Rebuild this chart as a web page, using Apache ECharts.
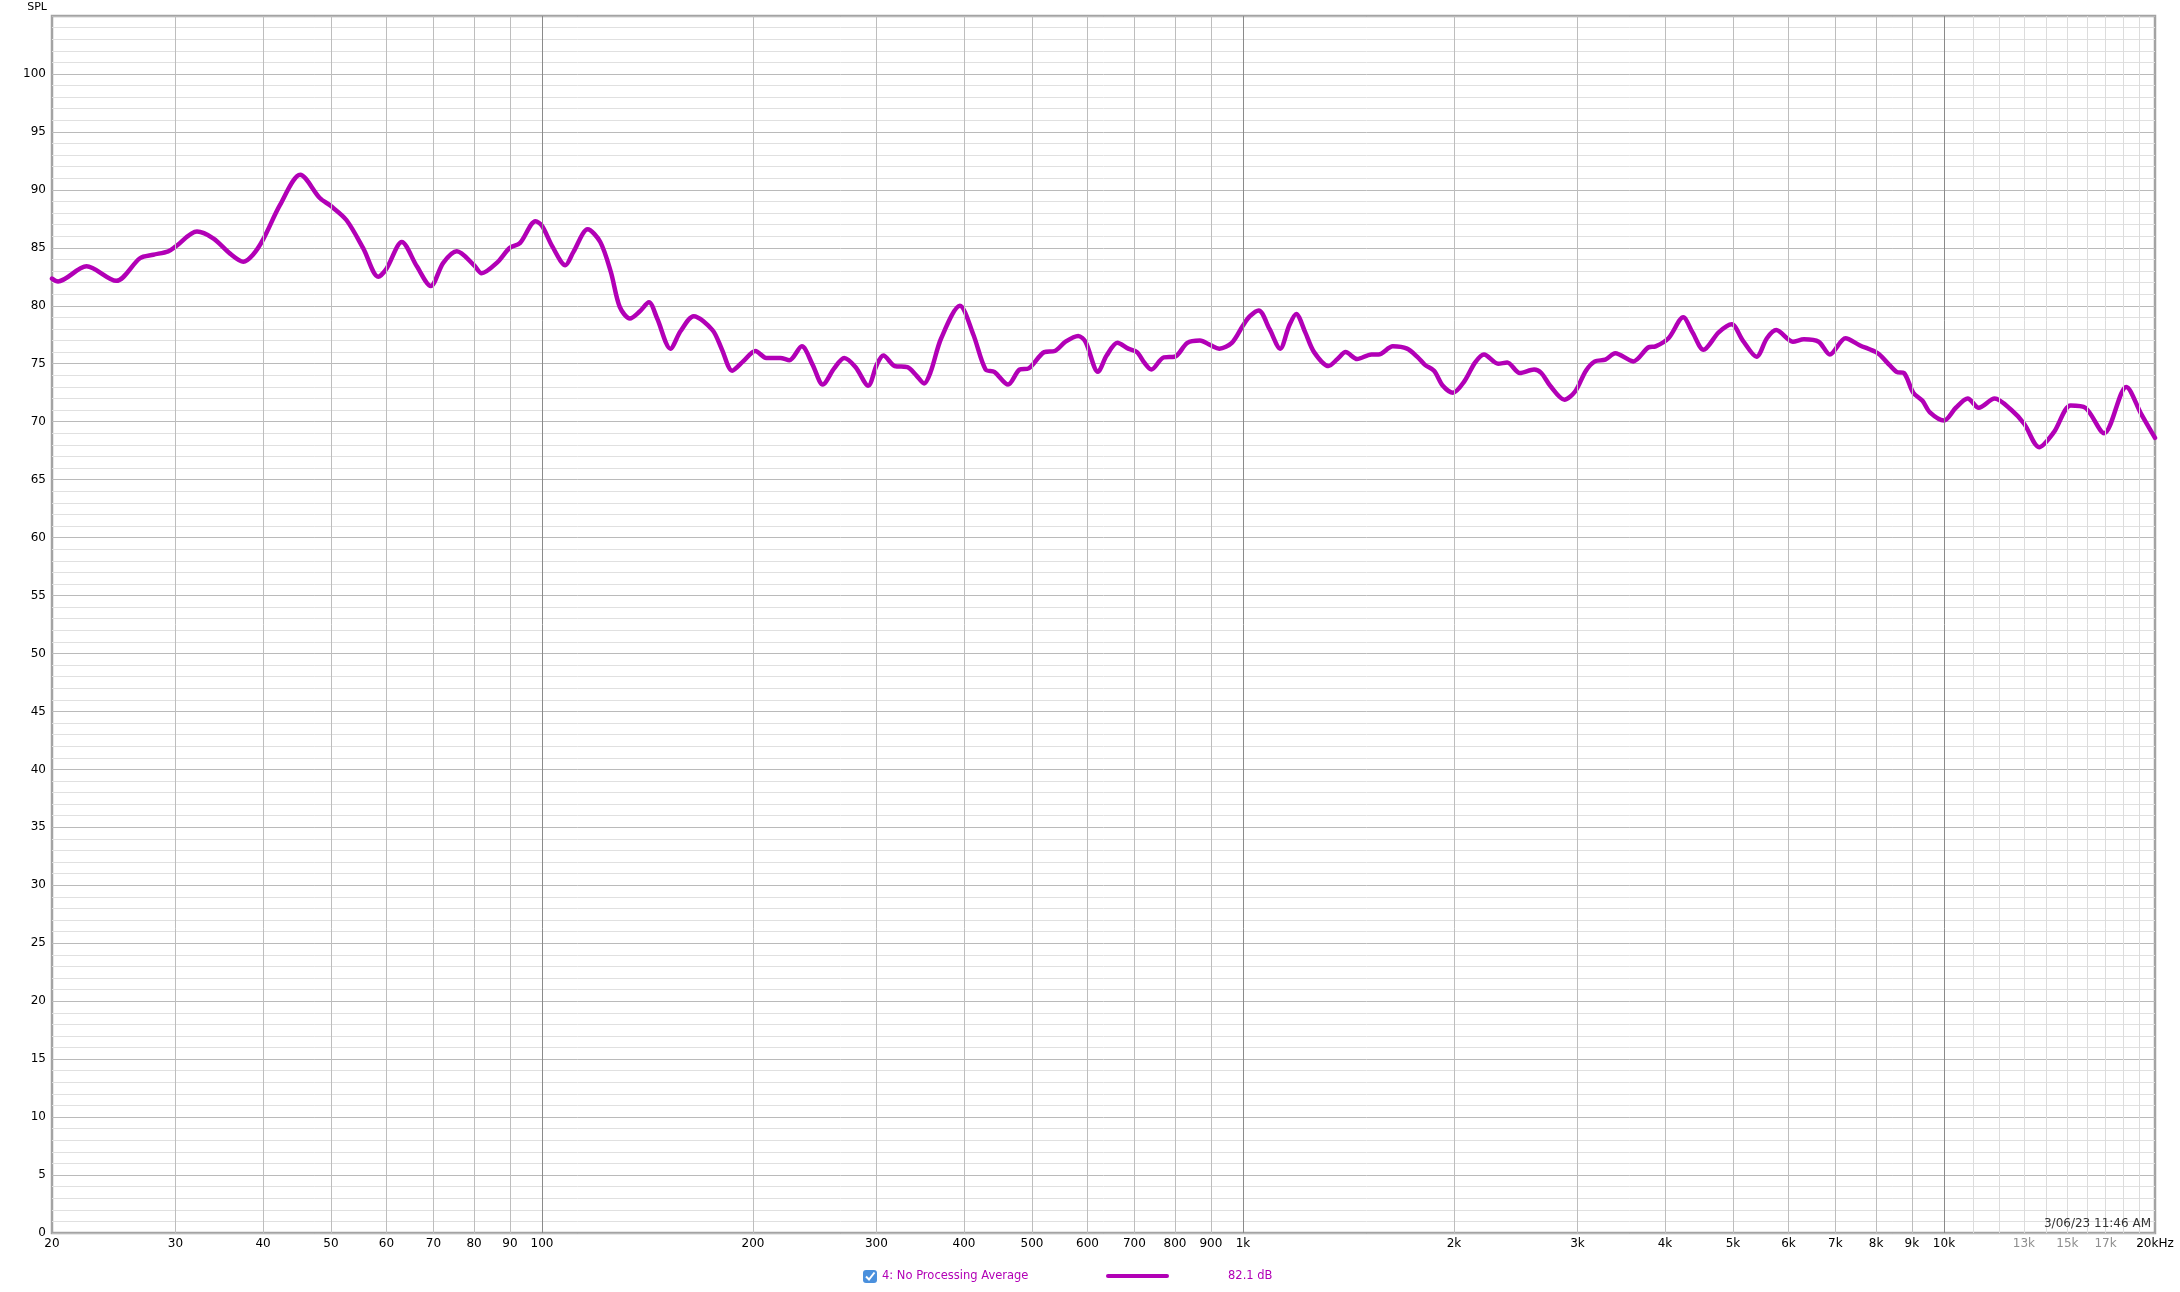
<!DOCTYPE html>
<html><head><meta charset="utf-8">
<script src="https://cdn.jsdelivr.net/npm/echarts@6/dist/echarts.min.js"></script>
<style>html,body{margin:0;padding:0;background:#fff;} #c{width:2180px;height:1292px;}</style>
</head><body><div id="c"></div>
<script>
// ---- data ----
const freqs = [20,20.4,22.4,24.7,26.7,27.9,29.3,30,32.2,34,35.9,37.5,38.7,40,42.3,45.2,48.2,50,52.6,55.6,58.4,60,63.1,66.3,69.4,72.3,75.6,80,82,86.2,90,93,97.9,100,103.5,108,110.9,116.2,121.1,125.4,129.1,133.5,137.8,142.1,146,152.5,157.6,164.6,175.1,180.4,186.8,193.6,201.6,208.9,218.8,225.4,234.8,243.3,251.5,261.1,269.9,280.2,292,300.3,306.9,318.6,332.1,341.9,350.9,358.5,371.1,394.6,412.5,429.3,441.8,462.3,480.3,494.6,520.7,539,558.3,582,596,621,639,662,686,706,723,740,771,799,833,868,899,925,964,1000,1023,1053,1091,1130,1164,1191,1227,1263,1324,1364,1401,1455,1525,1561,1636,1714,1776,1818,1873,1928,1993,2070,2143,2207,2312,2382,2483,2602,2664,2743,2875,2977,3085,3177,3288,3397,3604,3785,3878,4046,4247,4378,4539,4771,4979,5165,5403,5590,5763,6087,6313,6626,6874,7235,7578,8050,8299,8557,8767,9040,9318,9548,10000,10397,10810,11210,11810,12480,13020,13670,14350,15160,15910,16920,18200,19100,20000];
const spl = [82.35,82.1,83.4,82.15,84.1,84.4,84.7,85.1,86.4,85.8,84.5,83.8,84.4,85.7,88.7,91.3,89.3,88.6,87.4,84.95,82.5,83.2,85.5,83.4,81.7,83.7,84.7,83.5,82.8,83.7,85.0,85.4,87.3,86.9,85.1,83.5,84.65,86.6,85.5,82.9,79.9,78.9,79.5,80.3,78.9,76.3,77.8,79.1,77.9,76.3,74.4,75.2,76.1,75.5,75.5,75.3,76.5,74.9,73.2,74.6,75.5,74.7,73.1,74.9,75.7,74.8,74.7,74.0,73.3,74.3,77.2,80.0,77.5,74.5,74.3,73.2,74.5,74.6,76.0,76.1,76.9,77.4,76.9,74.3,75.7,76.8,76.3,76.0,75.1,74.5,75.55,75.6,76.8,77.0,76.6,76.3,76.8,78.3,79.1,79.6,78.0,76.3,78.3,79.3,77.7,76.0,74.8,75.4,76.0,75.4,75.8,75.8,76.5,76.3,75.55,74.9,74.4,73.1,72.5,73.5,75.1,75.8,75.0,75.1,74.2,74.5,74.2,73.1,71.9,72.6,74.4,75.2,75.35,75.9,75.2,76.4,76.5,77.2,79.0,77.7,76.2,77.7,78.4,77.0,75.6,77.2,77.9,76.9,77.1,76.9,75.8,77.2,76.6,75.9,75.1,74.3,74.2,72.5,71.8,70.8,70.1,71.2,72.0,71.2,72.0,71.0,69.8,67.8,69.1,71.4,71.2,69.0,73.0,70.7,68.6];

const tickFreqs  = [20,30,40,50,60,70,80,90,100,200,300,400,500,600,700,800,900,1000,2000,3000,4000,5000,6000,7000,8000,9000,10000,11000,12000,13000,14000,15000,16000,17000,18000,19000,20000];
const tickLabels = ['20','30','40','50','60','70','80','90','100','200','300','400','500','600','700','800','900','1k','2k','3k','4k','5k','6k','7k','8k','9k','10k','','','13k','','15k','','17k','','','20kHz'];
const decadeFreqs = [100,1000,10000];
const greyLabelFreqs = [13000,15000,17000];
const yMin = 0, yMax = 105, yStep = 5;
const yTitle = 'SPL';
const seriesName = '4: No Processing Average';
const seriesLevel = '82.1 dB';
const stamp = '3/06/23 11:46 AM';

// ---- styles ----
const FONT = '"DejaVu Sans", "Liberation Sans", sans-serif';
const CURVE = '#b200b6';

function lineColor(f) {
  if (f === tickFreqs[0] || f === tickFreqs[tickFreqs.length - 1]) return 'rgba(0,0,0,0)';
  if (decadeFreqs.indexOf(f) >= 0) return '#8a8a8a';
  if (f > 10000 && f < 20000) return '#dcdcdc';
  return '#bdbdbd';
}

const markData = tickFreqs.map((f, i) => ({
  xAxis: f,
  lineStyle: { color: lineColor(f), width: 1, type: 'solid' },
  label: {
    show: tickLabels[i] !== '',
    formatter: tickLabels[i],
    position: 'start',
    distance: 5,
    color: greyLabelFreqs.indexOf(f) >= 0 ? '#8e8e8e' : '#000',
    fontSize: 12,
    fontFamily: FONT
  }
}));

const chart = echarts.init(document.getElementById('c'), null, { renderer: 'canvas' });
chart.setOption({
  animation: false,
  backgroundColor: '#fff',
  grid: {
    left: 52, right: 25, top: 16, bottom: 59,
    show: true, borderColor: '#a3a3a3', borderWidth: 2.5, backgroundColor: '#fff',
    containLabel: false, outerBoundsMode: 'none'
  },
  xAxis: {
    type: 'log', logBase: 10, min: tickFreqs[0], max: tickFreqs[tickFreqs.length - 1],
    axisLine: { show: false }, axisTick: { show: false }, axisLabel: { show: false },
    splitLine: { show: false }, minorSplitLine: { show: false }
  },
  yAxis: {
    type: 'value', min: yMin, max: yMax, interval: yStep,
    axisLine: { show: false }, axisTick: { show: false },
    axisLabel: {
      color: '#000', fontSize: 12, fontFamily: FONT, margin: 6,
      formatter: v => (v > 100 ? '' : String(v))
    },
    splitLine: { show: true, lineStyle: { color: '#bababa', width: 1 } },
    minorTick: { show: false, splitNumber: 5 },
    minorSplitLine: { show: true, lineStyle: { color: '#e0e0e0', width: 1 } }
  },
  series: [
    {
      name: 'grid', type: 'line', data: [], z: 1, silent: true,
      markLine: {
        silent: true, symbol: ['none', 'none'], animation: false,
        data: markData
      }
    },
    {
      name: seriesName, type: 'line', z: 3,
      data: freqs.map((f, i) => [f, spl[i]]),
      smooth: 0.3, showSymbol: false, symbol: 'none',
      lineStyle: { color: CURVE, width: 4.5, cap: 'round', join: 'round' },
      itemStyle: { color: CURVE }
    }
  ],
  graphic: [
    { type: 'text', x: 47, y: 7, style: { text: yTitle, align: 'right', verticalAlign: 'middle', font: '11px ' + FONT, fill: '#000' } },
    { type: 'text', x: 2151, y: 1224, z: 10, style: { text: stamp, align: 'right', verticalAlign: 'middle', font: '12px ' + FONT, fill: '#333' } },
    { type: 'rect', shape: { x: 863, y: 1270, width: 14, height: 13, r: 3 }, style: { fill: '#4a90dd' } },
    { type: 'polyline', shape: { points: [[866, 1276.5], [869, 1279.5], [874.5, 1272.5]] }, style: { stroke: '#fff', lineWidth: 2, fill: null } },
    { type: 'text', x: 882, y: 1276, style: { text: seriesName, align: 'left', verticalAlign: 'middle', font: '11.5px ' + FONT, fill: CURVE } },
    { type: 'line', shape: { x1: 1108, y1: 1276, x2: 1167, y2: 1276 }, style: { stroke: CURVE, lineWidth: 4, lineCap: 'round' } },
    { type: 'text', x: 1228, y: 1276, style: { text: seriesLevel, align: 'left', verticalAlign: 'middle', font: '11.5px ' + FONT, fill: CURVE } }
  ]
});
</script>
</body></html>
